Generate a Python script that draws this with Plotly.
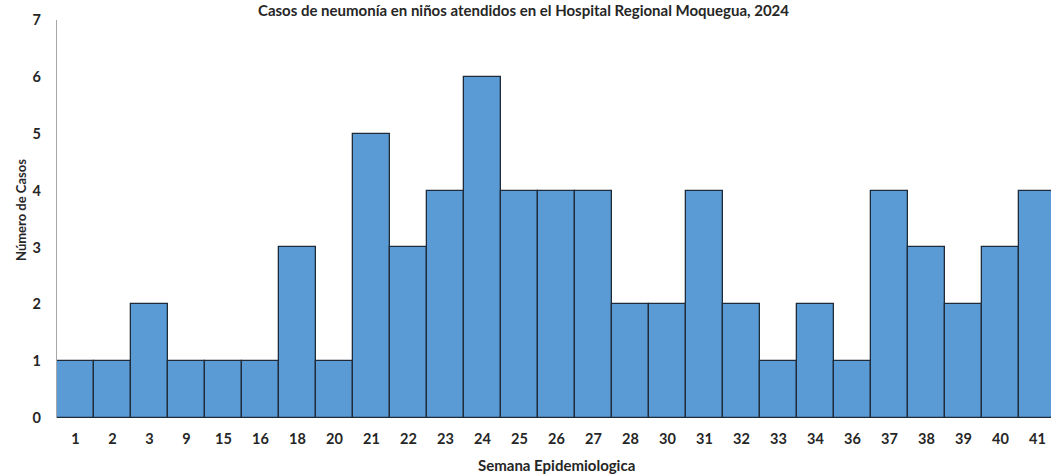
import plotly.graph_objects as go

semanas = ["1", "2", "3", "9", "15", "16", "18", "20", "21", "22", "23", "24", "25", "26",
           "27", "28", "30", "31", "32", "33", "34", "36", "37", "38", "39", "40", "41"]
casos = [1, 1, 2, 1, 1, 1, 3, 1, 5, 3, 4, 6, 4, 4, 4, 2, 2, 4, 2, 1, 2, 1, 4, 3, 2, 3, 4]
y_ticks = [0, 1, 2, 3, 4, 5, 6, 7]

FONT = "Lato"
TXT = "#262626"
fig = go.Figure()
fig.add_trace(go.Bar(
    x=list(range(len(semanas))), y=casos,
    width=1.0,
    marker=dict(color="#5B9BD5", line=dict(color="#1F2B38", width=1.3)),
))

fig.update_layout(
    width=1051, height=476,
    margin=dict(l=57, r=0, t=20, b=58, autoexpand=False),
    plot_bgcolor="white", paper_bgcolor="white",
    showlegend=False,
    bargap=0,
    font=dict(family=FONT, color=TXT),
    title=dict(text="Casos de neumonía en niños atendidos en el Hospital Regional Moquegua, 2024",
               x=(523.5) / 1051, xanchor="center", y=1 - 11 / 476, yanchor="middle",
               font=dict(size=15, family=FONT, weight="bold", color=TXT)),
)
fig.update_xaxes(
    tickmode="array", tickvals=list(range(len(semanas))), ticktext=semanas,
    range=[-0.5, 26.365], showgrid=False, zeroline=False, showline=False,
    ticks="", ticklabelstandoff=10, automargin=False,
    tickfont=dict(size=14.5, family=FONT, weight="bold", color=TXT),
)
fig.update_yaxes(
    range=[0, 7], tickvals=y_ticks, showgrid=False, zeroline=False,
    showline=True, linecolor="#A6A6A6", linewidth=1.3,
    ticks="", ticklabelstandoff=12, automargin=False,
    tickfont=dict(size=14.5, family=FONT, weight="bold", color=TXT),
)
fig.add_annotation(text="Semana Epidemiologica", xref="paper", yref="paper",
                   x=(556 - 57) / 994, y=-(465 - 418) / 398, xanchor="center", yanchor="middle",
                   showarrow=False, font=dict(size=15, family=FONT, weight="bold", color=TXT))
fig.add_annotation(text="Número de Casos", xref="paper", yref="paper",
                   x=-(57 - 21) / 994, y=(418 - 210) / 398, xanchor="center", yanchor="middle",
                   textangle=-90, showarrow=False,
                   font=dict(size=13, family=FONT, weight="bold", color=TXT))

fig.write_html("out.html", config={"displayModeBar": False},
               post_script="document.body.style.margin='0';")
